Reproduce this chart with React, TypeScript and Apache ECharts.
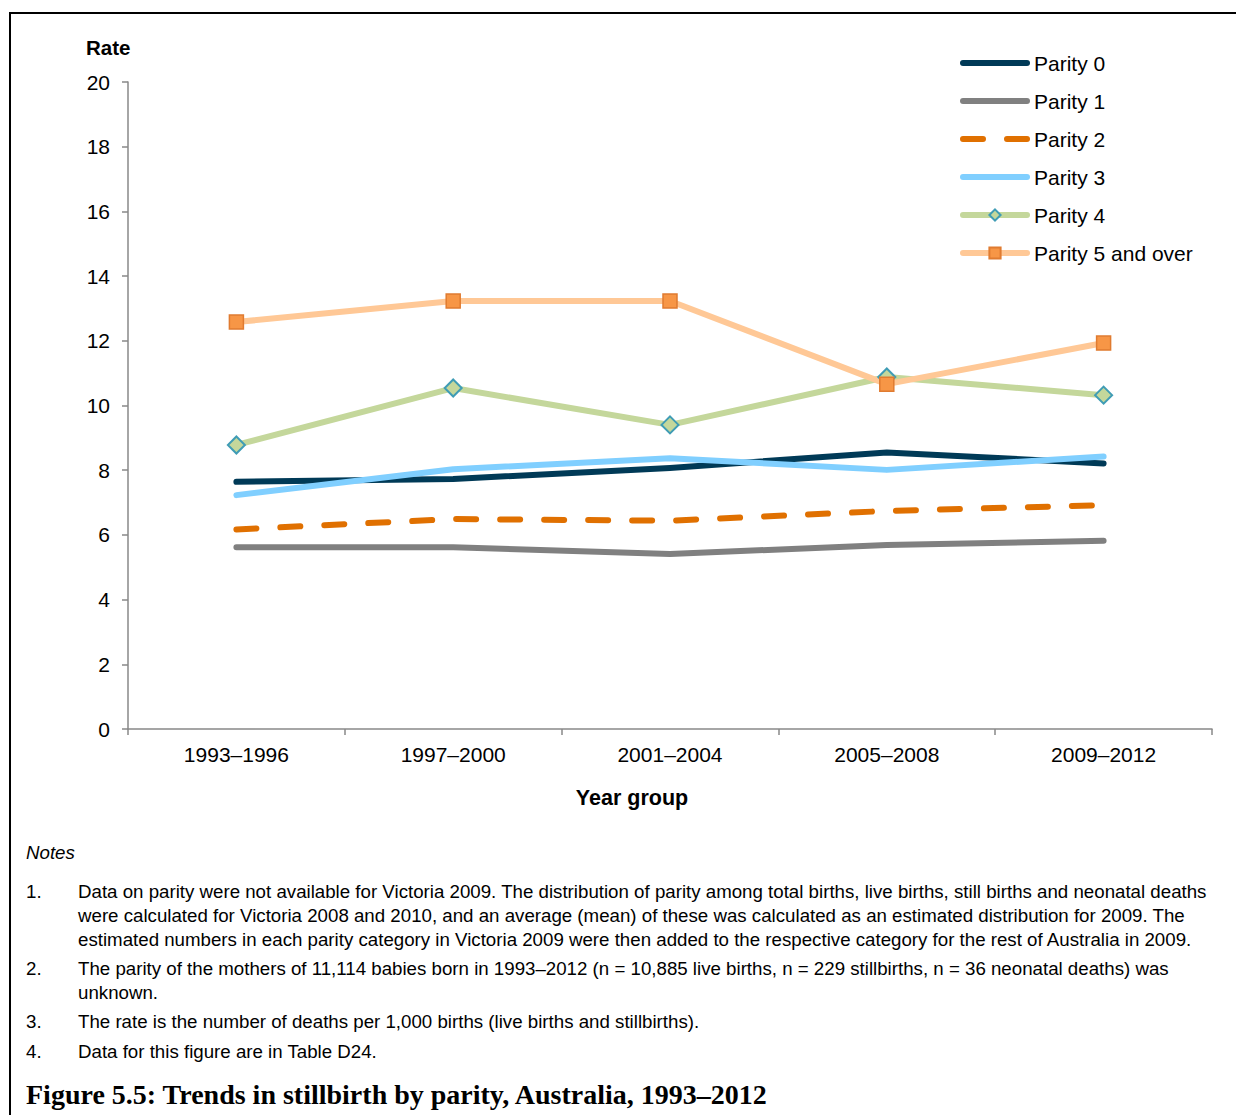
import React, { useEffect, useRef } from "react";
import * as echarts from "echarts";

const categories = ["1993–1996", "1997–2000", "2001–2004", "2005–2008", "2009–2012"];
const parity0 = [7.64, 7.73, 8.07, 8.55, 8.21];
const parity1 = [5.62, 5.62, 5.41, 5.69, 5.82];
const parity2 = [6.17, 6.49, 6.44, 6.74, 6.92];
const parity3 = [7.23, 8.03, 8.37, 8.01, 8.42];
const parity4 = [8.78, 10.54, 9.40, 10.88, 10.32];
const parity5 = [12.58, 13.23, 13.23, 10.66, 11.93];
const seriesNames = ["Parity 0", "Parity 1", "Parity 2", "Parity 3", "Parity 4", "Parity 5 and over"];
const yTicks = [0, 2, 4, 6, 8, 10, 12, 14, 16, 18, 20];

const noteLines: [string, string, number][] = [
  ["1.", "Data on parity were not available for Victoria 2009. The distribution of parity among total births, live births, still births and neonatal deaths", 891],
  ["", "were calculated for Victoria 2008 and 2010, and an average (mean) of these was calculated as an estimated distribution for 2009. The", 915],
  ["", "estimated numbers in each parity category in Victoria 2009 were then added to the respective category for the rest of Australia in 2009.", 939],
  ["2.", "The parity of the mothers of 11,114 babies born in 1993–2012 (n = 10,885 live births, n = 229 stillbirths, n = 36 neonatal deaths) was", 968],
  ["", "unknown.", 992],
  ["3.", "The rate is the number of deaths per 1,000 births (live births and stillbirths).", 1021],
  ["4.", "Data for this figure are in Table D24.", 1051],
];
const figureTitle = "Figure 5.5: Trends in stillbirth by parity, Australia, 1993–2012";

const FONT = "'Liberation Sans', Arial, sans-serif";

export default function App() {
  const ref = useRef<HTMLDivElement>(null);
  useEffect(() => {
    if (!ref.current) return;
    const chart = echarts.init(ref.current, null, { renderer: "svg" });
    const plain = (name: string, data: number[], color: string, dash?: number[]) => ({
      name,
      type: "line",
      data,
      symbol: "none",
      lineStyle: { color, width: 6, cap: "round", join: "round", type: dash || "solid" },
      itemStyle: { color },
    });
    const texts: any[] = [];
    noteLines.forEach(([num, txt, y]) => {
      if (num)
        texts.push({ type: "text", x: 26, y, style: { text: num, font: `18.7px ${FONT}`, fill: "#000", textVerticalAlign: "middle" } });
      texts.push({ type: "text", x: 78, y, style: { text: txt, font: `18.7px ${FONT}`, fill: "#000", textVerticalAlign: "middle" } });
    });
    const hiddenSym = { opacity: 0 };
    chart.setOption({
      animation: false,
      backgroundColor: "#fff",
      grid: { left: 128, right: 24, top: 82, height: 647 },
      legend: {
        orient: "vertical",
        left: 960,
        top: 52.5,
        padding: 0,
        itemWidth: 64,
        itemHeight: 14,
        itemGap: 17,
        lineStyle: { width: 6, cap: "round" },
        textStyle: { fontFamily: FONT, fontSize: 21, color: "#000", padding: [0, 0, 0, 2] },
        data: [
          { name: seriesNames[0], itemStyle: hiddenSym },
          { name: seriesNames[1], itemStyle: hiddenSym },
          { name: seriesNames[2], itemStyle: hiddenSym },
          { name: seriesNames[3], itemStyle: hiddenSym },
          { name: seriesNames[4] },
          { name: seriesNames[5] },
        ],
      },
      xAxis: {
        type: "category",
        data: categories,
        boundaryGap: true,
        axisLine: { lineStyle: { color: "#888", width: 1.5 } },
        axisTick: { show: true, length: 6, lineStyle: { color: "#888", width: 1.5 } },
        axisLabel: { fontFamily: FONT, fontSize: 21, color: "#000", margin: 15 },
      },
      yAxis: {
        type: "value",
        min: 0,
        max: 20,
        interval: 2,
        axisLine: { show: true, lineStyle: { color: "#888", width: 1.5 } },
        axisTick: { show: true, length: 6, lineStyle: { color: "#888", width: 1.5 } },
        splitLine: { show: false },
        axisLabel: { fontFamily: FONT, fontSize: 21, color: "#000", margin: 18, formatter: (v: number) => (yTicks.includes(v) ? String(v) : "") },
      },
      series: [
        plain(seriesNames[0], parity0, "#003a57"),
        plain(seriesNames[1], parity1, "#808080"),
        plain(seriesNames[2], parity2, "#e07000", [20, 24]),
        plain(seriesNames[3], parity3, "#80cfff"),
        {
          name: seriesNames[4],
          type: "line",
          data: parity4,
          symbol: "diamond",
          symbolSize: 17,
          lineStyle: { color: "#c4d79b", width: 6, cap: "round", join: "round" },
          itemStyle: { color: "#c4d79b", borderColor: "#3f9cb5", borderWidth: 2 },
        },
        {
          name: seriesNames[5],
          type: "line",
          data: parity5,
          symbol: "rect",
          symbolSize: 14,
          lineStyle: { color: "#ffc896", width: 6, cap: "round", join: "round" },
          itemStyle: { color: "#f79646", borderColor: "#e07b30", borderWidth: 1.5 },
        },
      ],
      graphic: [
        { type: "line", shape: { x1: 10, y1: 13, x2: 1236, y2: 13 }, style: { stroke: "#000", lineWidth: 2 } },
        { type: "line", shape: { x1: 10, y1: 12, x2: 10, y2: 1115 }, style: { stroke: "#000", lineWidth: 2 } },
        { type: "text", x: 86, y: 47, style: { text: "Rate", font: `bold 20.5px ${FONT}`, fill: "#000", textVerticalAlign: "middle" } },
        { type: "text", x: 632, y: 798, style: { text: "Year group", font: `bold 21.5px ${FONT}`, fill: "#000", textAlign: "center", textVerticalAlign: "middle" } },
        { type: "text", x: 26, y: 852, style: { text: "Notes", font: `italic 18.7px ${FONT}`, fill: "#000", textVerticalAlign: "middle" } },
        ...texts,
        { type: "text", x: 26, y: 1094, style: { text: figureTitle, font: "bold 28px 'Liberation Serif', 'DejaVu Serif', serif", fill: "#000", textVerticalAlign: "middle" } },
      ],
    });
    return () => chart.dispose();
  }, []);
  return <div ref={ref} style={{ position: "absolute", left: 0, top: 0, width: 1236, height: 1115 }} />;
}
